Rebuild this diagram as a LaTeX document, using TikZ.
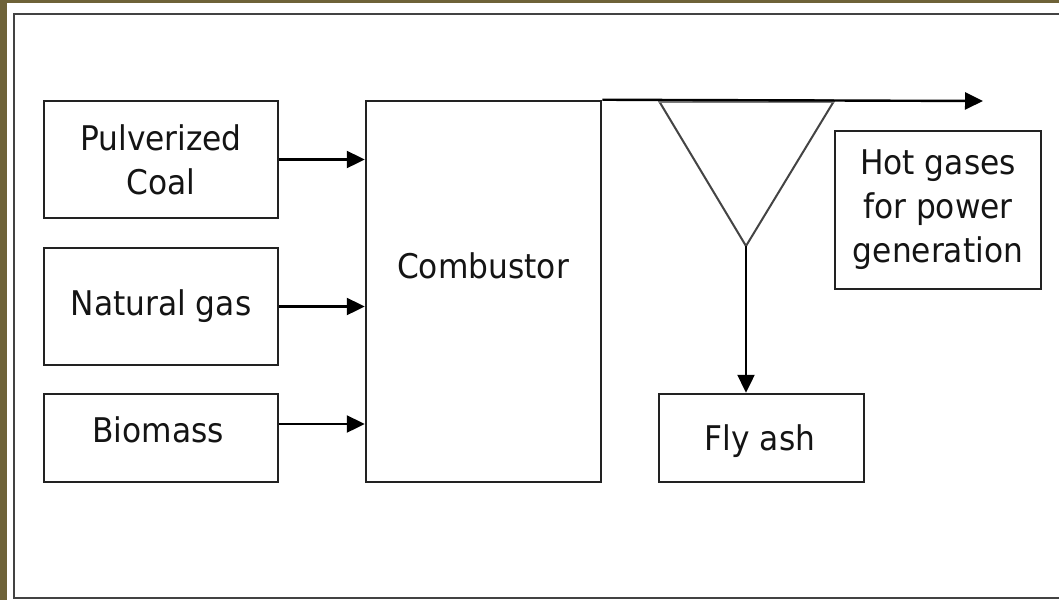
\documentclass[tikz,border=0pt]{standalone}
\usepackage{fontspec}
\setmainfont{DejaVu Sans}[FakeStretch=0.92]
\usetikzlibrary{arrows.meta,calc}
\definecolor{bgolive}{HTML}{6E6238}
\definecolor{linegray}{HTML}{222222}
\definecolor{trigray}{HTML}{444444}
\tikzset{
  box/.style={draw=linegray, line width=2.5pt, fill=white, inner sep=0pt, align=center,
    font=\fontsize{34}{44}\selectfont, text=black!92},
  lbl/.style={inner sep=0pt, align=center, font=\fontsize{34}{44}\selectfont, text=black!92},
  flow/.style={draw=black, line width=2.4pt, -{Triangle[length=18pt,width=17pt]}},
}
\begin{document}
\begin{tikzpicture}[x=1pt,y=-1pt]
\useasboundingbox (0,0) rectangle (1059,600);
\fill[bgolive] (0,0) rectangle (1059,600);
\fill[white] (7,3) rectangle (1059,600);
\draw[draw=linegray!85, line width=2.8pt] (1070,14) -- (14,14) -- (14,598) -- (1070,598);
% input boxes
\node[box, minimum width=234pt, minimum height=117pt] (coal) at (161,159.5) {Pulverized\\Coal};
\node[box, minimum width=234pt, minimum height=117pt] (gas) at (161,306.5) {Natural gas};
\node[box, minimum width=234pt, minimum height=88pt] (bio) at (161,438) {};
\node[lbl] (biot) at (158,430) {Biomass};
% combustor
\node[box, minimum width=235pt, minimum height=381pt] (comb) at (483.5,291.5) {};
\node[lbl] (combt) at (483,266) {Combustor};
% outputs
\node[box, minimum width=205pt, minimum height=88pt] (ash) at (761.5,438) {};
\node[lbl] (asht) at (760,441) {Fly ash};
\node[box, minimum width=206pt, minimum height=158pt] (hot) at (938,210) {Hot gases\\for power\\generation};
% input arrows
\draw[flow] (coal.east) -- (coal.east -| comb.west);
\draw[flow] (gas.east) -- (gas.east -| comb.west);
\draw[flow] ($(bio.east)+(0,-14)$) -- ($(bio.east -| comb.west)+(0,-14)$);
% separator triangle
\coordinate (tl) at (659,101);
\coordinate (tr) at (834,101);
\coordinate (apex) at (746,246);
\coordinate (out) at (983,101);
\draw[draw=trigray, line width=2pt, line join=miter] (tl) -- (apex) -- (tr);
\draw[draw=trigray!70, line width=3.2pt] (tl) -- (tr);
% hot gas line
\draw[flow] (comb.north east) -- (out);
% ash arrow
\draw[flow] (apex) -- (apex |- ash.north);
\end{tikzpicture}
\end{document}
